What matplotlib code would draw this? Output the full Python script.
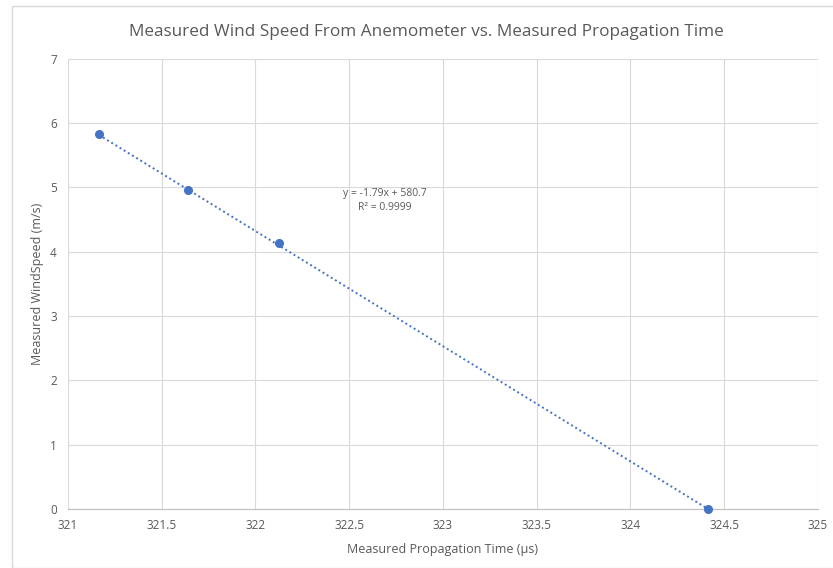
import matplotlib

matplotlib.use("Agg")
import matplotlib.pyplot as plt
import numpy as np

# measurements
prop_time_us = [321.165, 321.64, 322.125, 324.413]
wind_speed_ms = [5.83, 4.96, 4.135, 0.0]

# linear trendline as reported
trend_slope = -1.79
trend_intercept = 580.7
trend_r2 = 0.9999

x_ticks = [321, 321.5, 322, 322.5, 323, 323.5, 324, 324.5, 325]
y_ticks = [0, 1, 2, 3, 4, 5, 6, 7]

TEXT = "#595959"
BLUE = "#4472C4"
GRID = "#D9D9D9"

plt.rcParams["font.family"] = ["Open Sans", "DejaVu Sans"]

fig = plt.figure(figsize=(8.33, 5.68), dpi=100)
ax = fig.add_axes([0.0816, 0.1039, 0.9004, 0.7928])

# thin outer chart border
fig.patches.append(plt.Rectangle((12 / 833, 0), 1, 1 - 6 / 568, transform=fig.transFigure,
                                 fill=False, edgecolor=GRID, linewidth=1.0))

tx = np.array([min(prop_time_us), max(prop_time_us)])
ax.plot(tx, trend_slope * tx + trend_intercept, linestyle=(0, (1, 1.5)), color=BLUE,
        linewidth=1.4, zorder=3)
ax.plot(prop_time_us, wind_speed_ms, "o", color=BLUE, markersize=5.5, zorder=4,
        clip_on=False)

ax.text(322.69, 4.91, f"y = {trend_slope}x + {trend_intercept}", ha="center", va="center",
        fontsize=7.5, color=TEXT)
ax.text(322.69, 4.69, f"R² = {trend_r2}", ha="center", va="center", fontsize=7.5, color=TEXT)

ax.set_xlim(321, 325)
ax.set_ylim(0, 7)
ax.set_xticks(x_ticks)
ax.set_xticklabels([f"{v:g}" for v in x_ticks])
ax.set_yticks(y_ticks)
ax.tick_params(length=0, labelsize=8.5, colors=TEXT, pad=7)
ax.tick_params(axis="y", pad=8)
ax.grid(True, color=GRID, linewidth=0.8)
ax.set_axisbelow(True)
for side in ["top", "right", "left"]:
    ax.spines[side].set_visible(False)
ax.spines["bottom"].set_color("#BFBFBF")

ax.set_xlabel("Measured Propagation Time (µs)", fontsize=9, color=TEXT, labelpad=8)
ax.set_ylabel("Measured WindSpeed (m/s)", fontsize=9, color=TEXT, labelpad=4)
fig.text(0.512, 1 - 32 / 568, "Measured Wind Speed From Anemometer vs. Measured Propagation Time",
         ha="center", va="center", fontsize=12.3, color=TEXT)

fig.savefig("out.png", dpi=100)
